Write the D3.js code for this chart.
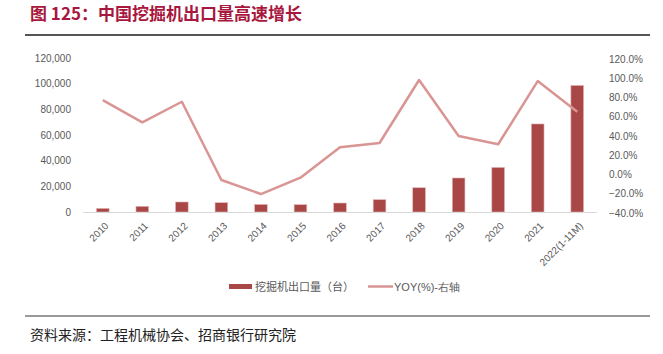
<!DOCTYPE html>
<html>
<head>
<meta charset="utf-8">
<title>中国挖掘机出口量</title>
<script src="https://d3js.org/d3.v7.min.js"></script>
<style>
  body { margin: 0; background: #fff; }
  text { font-family: "Liberation Sans", Arial, sans-serif; }
  .cjk { font-family: "Noto Sans CJK SC", sans-serif; }
</style>
</head>
<body>
<div id="chart"></div>
<script>
var years = ["2010", "2011", "2012", "2013", "2014", "2015", "2016", "2017", "2018", "2019", "2020", "2021", "2022(1-11M)"];
var exports = [2800, 4400, 7800, 7250, 5900, 5700, 7000, 9600, 18900, 26500, 34700, 68600, 98600];
var yoy = [77.2, 54.2, 75.6, -5.7, -20.3, -3.3, 28.3, 32.7, 98.2, 40.0, 31.4, 97.1, 65.2];
var leftTicks = [0, 20000, 40000, 60000, 80000, 100000, 120000];
var rightTicks = [-40, -20, 0, 20, 40, 60, 80, 100, 120];

var W = 663, H = 354;
var barColor = "#a94646", lineColor = "#d99593", grey = "#595959";

var svg = d3.select("#chart").append("svg")
  .attr("width", W).attr("height", H);

// title + rules
svg.append("text").attr("class", "cjk")
  .attr("x", 30).attr("y", 20)
  .attr("fill", "#a8173d").attr("font-size", 17).attr("font-weight", "bold")
  .text("图 125：中国挖掘机出口量高速增长");
svg.append("line").attr("x1", 25).attr("x2", 650).attr("y1", 35).attr("y2", 35)
  .attr("stroke", "#555").attr("stroke-width", 2);
svg.append("line").attr("x1", 25).attr("x2", 650).attr("y1", 316).attr("y2", 316)
  .attr("stroke", "#777").attr("stroke-width", 1.5);
svg.append("text").attr("class", "cjk")
  .attr("x", 30).attr("y", 340)
  .attr("fill", "#222").attr("font-size", 14)
  .text("资料来源：工程机械协会、招商银行研究院");

var x = d3.scaleBand().domain(years).range([83, 597]).padding(0);
var yL = d3.scaleLinear().domain([0, 120000]).range([212, 58]);
var yR = d3.scaleLinear().domain([-40, 120]).range([213, 59]);

// left axis
var gl = svg.append("g").attr("transform", "translate(74,0)")
  .call(d3.axisLeft(yL).tickValues(leftTicks).tickSize(0).tickPadding(3).tickFormat(d3.format(",")));
gl.select(".domain").remove();
gl.selectAll("text").attr("fill", grey).attr("font-size", 10).style("font-family", "Liberation Sans, Arial, sans-serif");

// right axis
var gr = svg.append("g").attr("transform", "translate(606,0)")
  .call(d3.axisRight(yR).tickValues(rightTicks).tickSize(0).tickPadding(3).tickFormat(d => d3.format(".1f")(d) + "%"));
gr.select(".domain").remove();
gr.selectAll("text").attr("fill", grey).attr("font-size", 10).style("font-family", "Liberation Sans, Arial, sans-serif");

// bars
var bw = x.bandwidth() * 0.32;
svg.selectAll(".bar").data(years).enter().append("rect")
  .attr("class", "bar")
  .attr("x", (d, i) => x(d) + x.bandwidth() / 2 - bw / 2)
  .attr("width", bw)
  .attr("y", (d, i) => yL(exports[i]))
  .attr("height", (d, i) => yL(0) - yL(exports[i]))
  .attr("fill", barColor)
  .attr("stroke", "#e4b5b5").attr("stroke-width", 0.6);

// baseline
svg.append("line").attr("x1", 83).attr("x2", 597).attr("y1", yL(0) + 0.5).attr("y2", yL(0) + 0.5)
  .attr("stroke", "#d9d9d9").attr("stroke-width", 1);

// x labels
var gx = svg.append("g").attr("transform", "translate(0," + yL(0) + ")")
  .call(d3.axisBottom(x).tickSize(0));
gx.select(".domain").remove();
gx.selectAll("text")
  .attr("fill", grey).attr("font-size", 10)
  .style("font-family", "Liberation Sans, Arial, sans-serif")
  .attr("text-anchor", "end")
  .attr("dy", "0.35em").attr("y", 0)
  .attr("transform", "translate(4,12) rotate(-45)");

// yoy line
var line = d3.line()
  .x((d, i) => x(years[i]) + x.bandwidth() / 2)
  .y(d => yR(d));
svg.append("path").datum(yoy)
  .attr("d", line)
  .attr("fill", "none")
  .attr("stroke", lineColor)
  .attr("stroke-width", 2.5)
  .attr("stroke-linejoin", "round");

// legend
var lg = svg.append("g");
lg.append("rect").attr("x", 229).attr("y", 284).attr("width", 23).attr("height", 5).attr("fill", barColor);
lg.append("text").attr("class", "cjk").attr("x", 255).attr("y", 287).attr("dy", "0.35em")
  .attr("fill", grey).attr("font-size", 11).text("挖掘机出口量（台）");
lg.append("line").attr("x1", 368).attr("x2", 393).attr("y1", 286.5).attr("y2", 286.5)
  .attr("stroke", lineColor).attr("stroke-width", 2.5);
lg.append("text").attr("x", 394).attr("y", 287).attr("dy", "0.35em")
  .attr("fill", grey).attr("font-size", 11).text("YOY(%)-右轴");
</script>
</body>
</html>
